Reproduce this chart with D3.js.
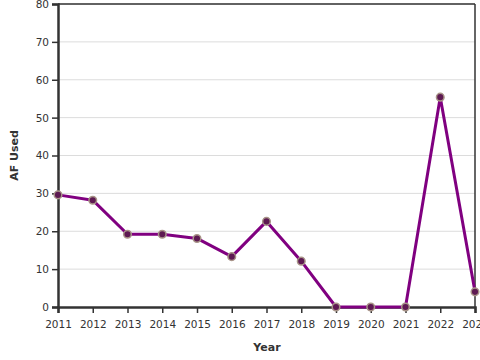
<!DOCTYPE html>
<html><head><meta charset="utf-8">
<script src="https://cdn.jsdelivr.net/npm/d3@7"></script>
<style>
body{margin:0;background:#fff;}
svg{display:block;font-family:"DejaVu Sans",sans-serif;}
</style></head><body>
<svg id="c" width="480" height="360"></svg>
<script>
const years = [2011,2012,2013,2014,2015,2016,2017,2018,2019,2020,2021,2022,2023];
const afUsed = [29.6,28.2,19.2,19.2,18.1,13.3,22.6,12.1,0,0,0,55.4,4.0];
const yTicks = [0,10,20,30,40,50,60,70,80];

const svg = d3.select("#c");
const m = {l:58, r:475, t:4, b:307};
const x = d3.scaleLinear().domain([2011,2023]).range([m.l,m.r]);
const y = d3.scaleLinear().domain([0,80]).range([m.b,m.t]);

// gridlines
svg.append("g").selectAll("line").data(yTicks.filter(d=>d>0)).join("line")
  .attr("x1",m.l).attr("x2",m.r).attr("y1",d=>y(d)).attr("y2",d=>y(d))
  .attr("stroke","#dcdcdc").attr("stroke-width",1);

// frame top/right
svg.append("line").attr("x1",m.l).attr("x2",m.r).attr("y1",m.t).attr("y2",m.t).attr("stroke","#333").attr("stroke-width",1.5);
svg.append("line").attr("x1",m.r).attr("x2",m.r).attr("y1",m.t).attr("y2",m.b).attr("stroke","#333").attr("stroke-width",1.5);

const yAxis = svg.append("g").attr("transform",`translate(${m.l},0)`)
  .call(d3.axisLeft(y).tickValues(yTicks).tickSize(6).tickPadding(3).tickFormat(d3.format("d")));
const xAxis = svg.append("g").attr("transform",`translate(0,${m.b})`)
  .call(d3.axisBottom(x).tickValues(years).tickSize(6).tickPadding(8).tickFormat(d3.format("d")));
[yAxis,xAxis].forEach(a=>{
  a.select(".domain").attr("stroke","#333").attr("stroke-width",2.5);
  a.selectAll(".tick line").attr("stroke","#333").attr("stroke-width",1.5);
  a.selectAll(".tick text").attr("fill","#333").attr("font-size",10.5).attr("font-family","DejaVu Sans");
});

const line = d3.line().x((d,i)=>x(years[i])).y(d=>y(d));
svg.append("path").datum(afUsed).attr("d",line).attr("fill","none")
  .attr("stroke","#800080").attr("stroke-width",3).attr("stroke-linejoin","round");

svg.append("g").selectAll("circle").data(afUsed).join("circle")
  .attr("cx",(d,i)=>x(years[i])).attr("cy",d=>y(d)).attr("r",3.8)
  .attr("fill","#5e1a52").attr("stroke","#a89488").attr("stroke-width",1.5);

svg.append("text").attr("x",267).attr("y",351).attr("text-anchor","middle")
  .attr("font-size",11).attr("font-weight","bold").attr("fill","#333").text("Year");
svg.append("text").attr("transform","translate(18,155.5) rotate(-90)").attr("text-anchor","middle")
  .attr("font-size",11).attr("font-weight","bold").attr("fill","#333").text("AF Used");
</script></body></html>
